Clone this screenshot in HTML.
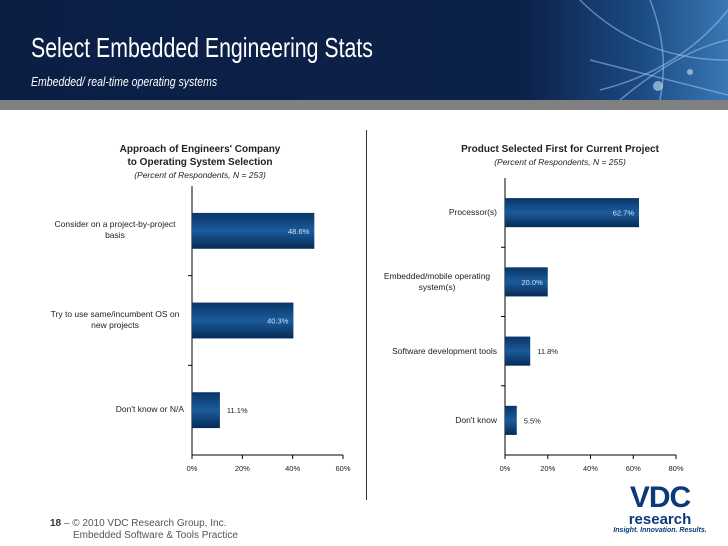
<!DOCTYPE html>
<html><head><meta charset="utf-8"><style>
body{margin:0;width:728px;height:546px;overflow:hidden;background:#fff;font-family:"Liberation Sans",sans-serif;position:relative}
.hdr{position:absolute;left:0;top:0;width:728px;height:100px;background:linear-gradient(90deg,#0b1f45 0%,#0c2149 72%,#1b4a82 88%,#3a77b5 100%)}
.band{position:absolute;left:0;top:100px;width:728px;height:10px;background:#808080}
.t{position:absolute;color:#fff;transform-origin:0 0;white-space:nowrap}
.lbl{position:absolute;font-size:8.5px;color:#222;text-align:right;line-height:11px}
.lbl span{display:inline-block;text-align:center}
.tk{position:absolute;font-size:7.5px;color:#222}
</style></head><body>
<div class="hdr"></div>
<svg style="position:absolute;left:560px;top:0" width="168" height="100">
<g stroke="#9cc4ee" stroke-opacity=".55" fill="none" stroke-width="1.5">
<path d="M20 0 Q80 60 168 60"/><path d="M90 0 Q110 50 100 100"/><path d="M40 90 Q120 70 168 10"/><path d="M60 100 Q120 50 168 40"/><path d="M30 60 L168 95"/></g>
<circle cx="98" cy="86" r="5" fill="#cfe3f7" opacity=".6"/><circle cx="130" cy="72" r="3" fill="#cfe3f7" opacity=".6"/></svg>
<div class="band"></div>
<div class="t" style="left:31px;top:32px;font-size:28px;transform:scaleX(.76)">Select Embedded Engineering Stats</div>
<div class="t" style="left:31px;top:74px;font-size:13px;font-style:italic;transform:scaleX(.81)">Embedded/ real-time operating systems</div>

<div style="position:absolute;left:366px;top:130px;width:1px;height:370px;background:#333"></div>

<div style="position:absolute;left:60px;top:143px;width:280px;text-align:center;font-size:10px;font-weight:bold;line-height:13px;color:#222">Approach of Engineers' Company<br>to Operating System Selection<div style="font-weight:normal;font-style:italic;font-size:8.5px">(Percent of Respondents, N = 253)</div></div>
<div style="position:absolute;left:410px;top:143px;width:300px;text-align:center;font-size:10px;font-weight:bold;line-height:13px;color:#222">Product Selected First for Current Project<div style="font-weight:normal;font-style:italic;font-size:8.5px">(Percent of Respondents, N = 255)</div></div>

<svg id="c" width="728" height="546" style="position:absolute;left:0;top:0">
<defs><linearGradient id="g" x1="0" y1="0" x2="0" y2="1"><stop offset="0" stop-color="#0a3567"/><stop offset=".5" stop-color="#1b5b9c"/><stop offset="1" stop-color="#062a55"/></linearGradient></defs>
</svg>
<div id="labels"></div>

<div style="position:absolute;left:50px;top:518px;font-size:10px;color:#555;line-height:12px"><b style="color:#333">18</b> – © 2010 VDC Research Group, Inc.<br><span style="padding-left:23px">Embedded Software &amp; Tools Practice</span></div>
<div style="position:absolute;left:608px;top:484px;width:104px;text-align:center">
<div style="font-size:30px;font-weight:900;color:#0a3a7a;line-height:28px;letter-spacing:-1px">VDC</div>
<div style="font-size:15px;color:#0a3a7a;line-height:15px;font-weight:bold">research</div>
<div style="font-size:7px;color:#0a3a7a;font-style:italic;font-weight:bold">Insight. Innovation. Results.</div></div>

<script>
const leftCats=["Consider on a project-by-project basis","Try to use same/incumbent OS on new projects","Don't know or N/A"];
const leftVals=[48.6,40.3,11.1];
const leftTicks=["0%","20%","40%","60%"];
const rightCats=["Processor(s)","Embedded/mobile operating system(s)","Software development tools","Don't know"];
const rightVals=[62.7,20.0,11.8,5.5];
const rightTicks=["0%","20%","40%","60%","80%"];
const svg=document.getElementById('c'),L=document.getElementById('labels'),NS="http://www.w3.org/2000/svg";
function mk(t,a){const e=document.createElementNS(NS,t);for(const k in a)e.setAttribute(k,a[k]);svg.appendChild(e);return e;}
function chart(o){
 const x=v=>o.x0+v/o.max*(o.x1-o.x0);
 const n=o.cats.length,bandH=(o.yb-o.yt)/n;
 let ax=mk('line',{x1:o.x0,y1:o.yt,x2:o.x0,y2:o.yb,stroke:'#000'});
 
 let bx=mk('line',{x1:o.x0,y1:o.yb,x2:o.x1,y2:o.yb,stroke:'#000'});
 
 for(let i=1;i<n;i++){mk('line',{x1:o.x0-4,y1:o.yt+i*bandH,x2:o.x0,y2:o.yt+i*bandH,stroke:'#000'});}
 o.ticks.forEach((t,i)=>{const v=o.max*i/(o.ticks.length-1);const px=x(v);
  mk('line',{x1:px,y1:o.yb,x2:px,y2:o.yb+4,stroke:'#000'});
  const d=document.createElement('div');d.className='tk';d.textContent=t;d.style.left=(px-15)+'px';d.style.width='30px';d.style.textAlign='center';d.style.top=(o.yb+9)+'px';
  
  L.appendChild(d);});
 o.cats.forEach((c,i)=>{const cy=o.yt+(i+.5)*bandH,h=bandH*o.bf,w=x(o.vals[i])-o.x0;
  const r=mk('rect',{x:o.x0,y:cy-h/2,width:w,height:h,fill:'url(#g)'});
  
  
  const inside=w>40;
  const tx=mk('text',{x:inside?o.x0+w-5:o.x0+w+7,y:cy+3,'font-size':7.5,'font-family':'Liberation Sans',fill:inside?'#cfe0f3':'#222','text-anchor':inside?'end':'start'});
  tx.textContent=o.vals[i].toFixed(1)+'%';
  
  
  const d=document.createElement('div');d.className='lbl';
  const s=document.createElement('span');s.textContent=c;s.style.maxWidth=o.lw+'px';d.appendChild(s);
  d.style.right=(728-o.lr)+'px';d.style.width='200px';
  const two=c.length*4.3>o.lw;d.style.top=(cy-(two?11:5.5)-o.lo)+'px';
  
  L.appendChild(d);});
}
chart({id:'left',cats:leftCats,vals:leftVals,ticks:leftTicks,max:60,x0:192,x1:343,yt:186,yb:455,bf:.4,lr:184,lw:138,lo:1});
chart({id:'right',cats:rightCats,vals:rightVals,ticks:rightTicks,max:80,x0:505,x1:676,yt:178,yb:455,bf:.42,lr:497,lw:120,lo:0});
</script>
</body></html>
